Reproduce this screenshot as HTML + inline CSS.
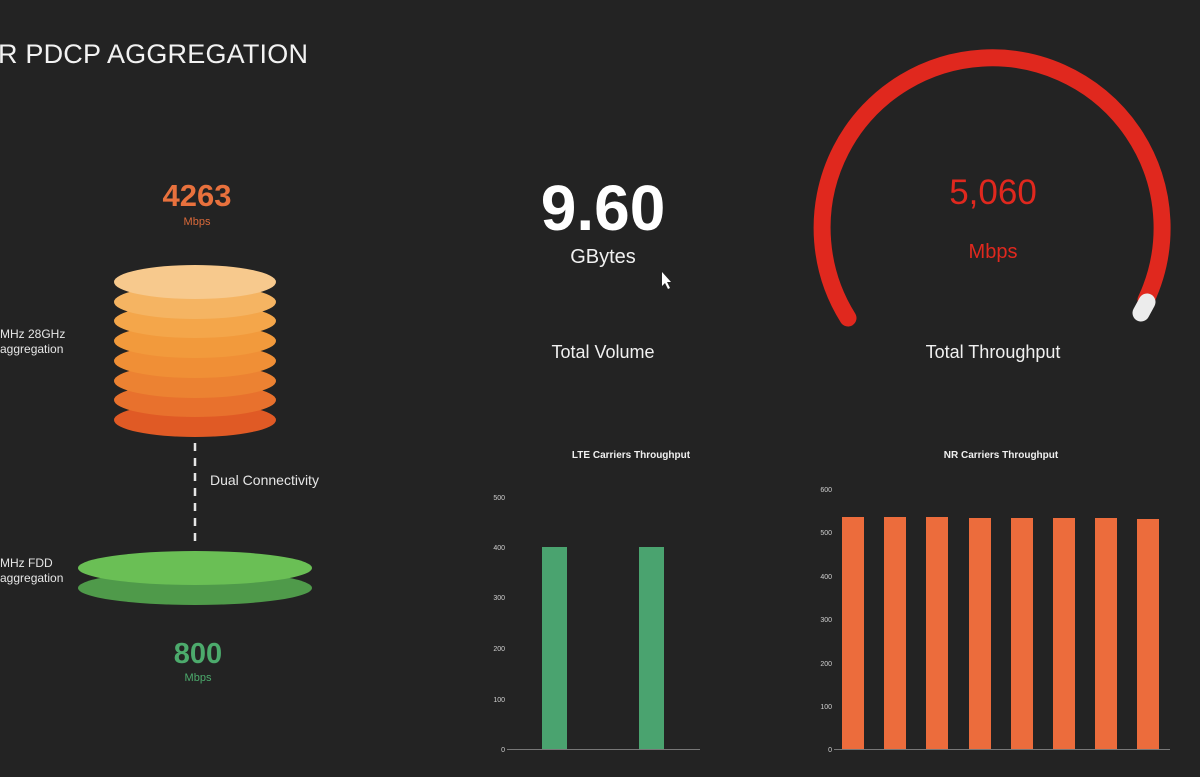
<!DOCTYPE html>
<html><head><meta charset="utf-8"><style>
html,body{margin:0;padding:0;background:#232323;}
svg{display:block;}
text{font-family:"Liberation Sans","DejaVu Sans",sans-serif;}
</style></head><body>
<svg width="1200" height="777" viewBox="0 0 1200 777" xmlns="http://www.w3.org/2000/svg">
<rect width="1200" height="777" fill="#232323"/>
<text x="-2" y="63" font-size="27" fill="#f2f2f2" letter-spacing="0.2">R PDCP AGGREGATION</text>

<text x="197" y="206" font-size="31" font-weight="bold" fill="#e8713d" text-anchor="middle">4263</text>
<text x="197" y="225" font-size="11" fill="#d9693a" text-anchor="middle">Mbps</text>

<text x="0" y="338" font-size="12" fill="#e6e6e6">MHz 28GHz</text>
<text x="0" y="353" font-size="12" fill="#e6e6e6"> aggregation</text>
<text x="0" y="567" font-size="12" fill="#e6e6e6">MHz FDD</text>
<text x="0" y="582" font-size="12" fill="#e6e6e6">aggregation</text>

<g>
<ellipse cx="195" cy="420" rx="81" ry="17" fill="#e05a25"/>
<ellipse cx="195" cy="400" rx="81" ry="17" fill="#e8712d"/>
<ellipse cx="195" cy="381" rx="81" ry="17" fill="#ec8232"/>
<ellipse cx="195" cy="361" rx="81" ry="17" fill="#f08f36"/>
<ellipse cx="195" cy="341" rx="81" ry="17" fill="#f29a3c"/>
<ellipse cx="195" cy="321" rx="81" ry="17" fill="#f4a64a"/>
<ellipse cx="195" cy="302" rx="81" ry="17" fill="#f5b462"/>
<ellipse cx="195" cy="282" rx="81" ry="17" fill="#f7c98d"/>
</g>
<line x1="195" y1="443" x2="195" y2="542" stroke="#e6e6e6" stroke-width="2.5" stroke-dasharray="8,7"/>
<text x="210" y="485" font-size="14" fill="#e6e6e6">Dual Connectivity</text>
<ellipse cx="195" cy="588" rx="117" ry="17" fill="#4f9a4a"/>
<ellipse cx="195" cy="568" rx="117" ry="17" fill="#6abf55"/>

<text x="198" y="663" font-size="29" font-weight="bold" fill="#4caa6c" text-anchor="middle">800</text>
<text x="198" y="681" font-size="11" fill="#4caa6c" text-anchor="middle">Mbps</text>

<text x="603" y="230" font-size="64" font-weight="bold" fill="#ffffff" text-anchor="middle">9.60</text>
<text x="603" y="263" font-size="20" fill="#f0f0f0" text-anchor="middle">GBytes</text>
<path d="M662 272 l0 14 l3 -3 l3 6 l2 -1 l-3 -6 l4 0 z" fill="#fff"/>
<text x="603" y="358" font-size="18" fill="#f0f0f0" text-anchor="middle">Total Volume</text>

<path d="M848 318 A170 170 0 1 1 1146 300" fill="none" stroke="#e0281e" stroke-width="17" stroke-linecap="round"/>
<path d="M1147 302 L1141 313" fill="none" stroke="#ececec" stroke-width="17" stroke-linecap="round"/>
<text x="993" y="204" font-size="35" fill="#e0281e" text-anchor="middle">5,060</text>
<text x="993" y="258" font-size="20" fill="#e0281e" text-anchor="middle">Mbps</text>
<text x="993" y="358" font-size="18" fill="#f0f0f0" text-anchor="middle">Total Throughput</text>

<!-- LTE chart -->
<text x="631" y="458" font-size="10" font-weight="bold" fill="#f0f0f0" text-anchor="middle">LTE Carriers Throughput</text>
<g font-size="7" fill="#cfcfcf" text-anchor="end">
<text x="505" y="500">500</text><text x="505" y="550">400</text><text x="505" y="600">300</text>
<text x="505" y="651">200</text><text x="505" y="702">100</text><text x="505" y="752">0</text>
</g>
<rect x="542" y="547" width="25" height="202" fill="#4aa36f"/>
<rect x="639" y="547" width="25" height="202" fill="#4aa36f"/>
<line x1="507" y1="749.5" x2="700" y2="749.5" stroke="#777" stroke-width="1"/>

<!-- NR chart -->
<text x="1001" y="458" font-size="10" font-weight="bold" fill="#f0f0f0" text-anchor="middle">NR Carriers Throughput</text>
<g font-size="7" fill="#cfcfcf" text-anchor="end">
<text x="832" y="492">600</text><text x="832" y="535">500</text><text x="832" y="579">400</text>
<text x="832" y="622">300</text><text x="832" y="666">200</text><text x="832" y="709">100</text><text x="832" y="752">0</text>
</g>
<g fill="#ec6c3c">
<rect x="842" y="517" width="22" height="232"/>
<rect x="884" y="517" width="22" height="232"/>
<rect x="926" y="517" width="22" height="232"/>
<rect x="969" y="518" width="22" height="231"/>
<rect x="1011" y="518" width="22" height="231"/>
<rect x="1053" y="518" width="22" height="231"/>
<rect x="1095" y="518" width="22" height="231"/>
<rect x="1137" y="519" width="22" height="230"/>
</g>
<line x1="834" y1="749.5" x2="1170" y2="749.5" stroke="#777" stroke-width="1"/>
</svg>
</body></html>
